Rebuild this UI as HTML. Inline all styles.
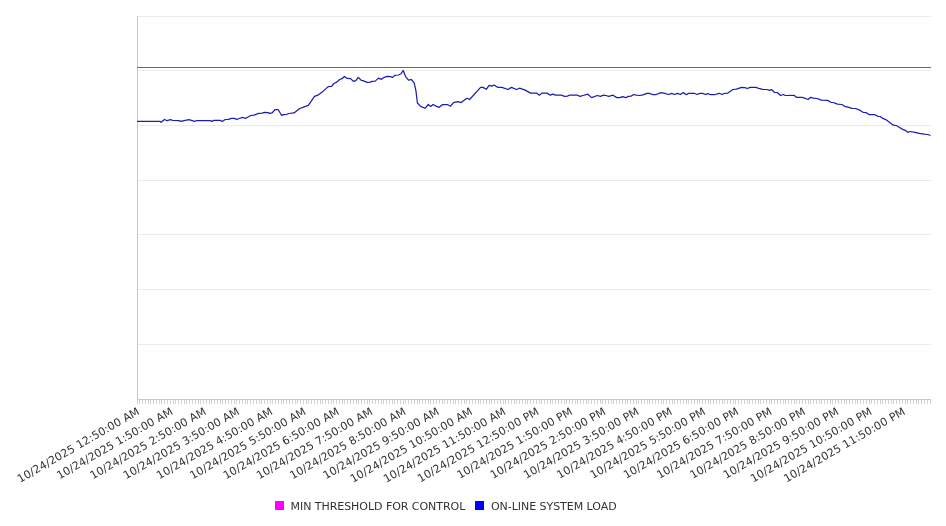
<!DOCTYPE html>
<html><head><meta charset="utf-8"><style>
html,body{margin:0;padding:0;background:#fff;}
svg{display:block;will-change:transform;}
text.xl{letter-spacing:0.1px;}
text{font-family:"DejaVu Sans","Liberation Sans",sans-serif;font-size:11px;letter-spacing:-0.045px;fill:#333;}
</style></head><body>
<svg width="946" height="526" viewBox="0 0 946 526">
<line x1="137" y1="16.5" x2="931" y2="16.5" stroke="#ebebeb" stroke-width="1"/>
<line x1="137" y1="70.5" x2="931" y2="70.5" stroke="#ebebeb" stroke-width="1"/>
<line x1="137" y1="125.5" x2="931" y2="125.5" stroke="#ebebeb" stroke-width="1"/>
<line x1="137" y1="180.5" x2="931" y2="180.5" stroke="#ebebeb" stroke-width="1"/>
<line x1="137" y1="234.5" x2="931" y2="234.5" stroke="#ebebeb" stroke-width="1"/>
<line x1="137" y1="289.5" x2="931" y2="289.5" stroke="#ebebeb" stroke-width="1"/>
<line x1="137" y1="344.5" x2="931" y2="344.5" stroke="#ebebeb" stroke-width="1"/>
<line x1="137.5" y1="16" x2="137.5" y2="400" stroke="#c8c8c8" stroke-width="1"/>
<line x1="137" y1="399.5" x2="931" y2="399.5" stroke="#c8c8c8" stroke-width="1"/>
<path d="M137.5 400v4M139.5 400v4M142.5 400v4M145.5 400v4M148.5 400v4M150.5 400v4M153.5 400v4M156.5 400v4M159.5 400v4M161.5 400v4M164.5 400v4M167.5 400v4M170.5 400v4M173.5 400v4M175.5 400v4M178.5 400v4M181.5 400v4M184.5 400v4M186.5 400v4M189.5 400v4M192.5 400v4M195.5 400v4M198.5 400v4M200.5 400v4M203.5 400v4M206.5 400v4M209.5 400v4M211.5 400v4M214.5 400v4M217.5 400v4M220.5 400v4M222.5 400v4M225.5 400v4M228.5 400v4M231.5 400v4M234.5 400v4M236.5 400v4M239.5 400v4M242.5 400v4M245.5 400v4M247.5 400v4M250.5 400v4M253.5 400v4M256.5 400v4M259.5 400v4M261.5 400v4M264.5 400v4M267.5 400v4M270.5 400v4M272.5 400v4M275.5 400v4M278.5 400v4M281.5 400v4M283.5 400v4M286.5 400v4M289.5 400v4M292.5 400v4M295.5 400v4M297.5 400v4M300.5 400v4M303.5 400v4M306.5 400v4M308.5 400v4M311.5 400v4M314.5 400v4M317.5 400v4M320.5 400v4M322.5 400v4M325.5 400v4M328.5 400v4M331.5 400v4M333.5 400v4M336.5 400v4M339.5 400v4M342.5 400v4M344.5 400v4M347.5 400v4M350.5 400v4M353.5 400v4M356.5 400v4M358.5 400v4M361.5 400v4M364.5 400v4M367.5 400v4M369.5 400v4M372.5 400v4M375.5 400v4M378.5 400v4M381.5 400v4M383.5 400v4M386.5 400v4M389.5 400v4M392.5 400v4M394.5 400v4M397.5 400v4M400.5 400v4M403.5 400v4M405.5 400v4M408.5 400v4M411.5 400v4M414.5 400v4M417.5 400v4M419.5 400v4M422.5 400v4M425.5 400v4M428.5 400v4M430.5 400v4M433.5 400v4M436.5 400v4M439.5 400v4M442.5 400v4M444.5 400v4M447.5 400v4M450.5 400v4M453.5 400v4M455.5 400v4M458.5 400v4M461.5 400v4M464.5 400v4M466.5 400v4M469.5 400v4M472.5 400v4M475.5 400v4M478.5 400v4M480.5 400v4M483.5 400v4M486.5 400v4M489.5 400v4M491.5 400v4M494.5 400v4M497.5 400v4M500.5 400v4M503.5 400v4M505.5 400v4M508.5 400v4M511.5 400v4M514.5 400v4M516.5 400v4M519.5 400v4M522.5 400v4M525.5 400v4M527.5 400v4M530.5 400v4M533.5 400v4M536.5 400v4M539.5 400v4M541.5 400v4M544.5 400v4M547.5 400v4M550.5 400v4M552.5 400v4M555.5 400v4M558.5 400v4M561.5 400v4M564.5 400v4M566.5 400v4M569.5 400v4M572.5 400v4M575.5 400v4M577.5 400v4M580.5 400v4M583.5 400v4M586.5 400v4M588.5 400v4M591.5 400v4M594.5 400v4M597.5 400v4M600.5 400v4M602.5 400v4M605.5 400v4M608.5 400v4M611.5 400v4M613.5 400v4M616.5 400v4M619.5 400v4M622.5 400v4M625.5 400v4M627.5 400v4M630.5 400v4M633.5 400v4M636.5 400v4M638.5 400v4M641.5 400v4M644.5 400v4M647.5 400v4M649.5 400v4M652.5 400v4M655.5 400v4M658.5 400v4M661.5 400v4M663.5 400v4M666.5 400v4M669.5 400v4M672.5 400v4M674.5 400v4M677.5 400v4M680.5 400v4M683.5 400v4M686.5 400v4M688.5 400v4M691.5 400v4M694.5 400v4M697.5 400v4M699.5 400v4M702.5 400v4M705.5 400v4M708.5 400v4M710.5 400v4M713.5 400v4M716.5 400v4M719.5 400v4M722.5 400v4M724.5 400v4M727.5 400v4M730.5 400v4M733.5 400v4M735.5 400v4M738.5 400v4M741.5 400v4M744.5 400v4M747.5 400v4M749.5 400v4M752.5 400v4M755.5 400v4M758.5 400v4M760.5 400v4M763.5 400v4M766.5 400v4M769.5 400v4M771.5 400v4M774.5 400v4M777.5 400v4M780.5 400v4M783.5 400v4M785.5 400v4M788.5 400v4M791.5 400v4M794.5 400v4M796.5 400v4M799.5 400v4M802.5 400v4M805.5 400v4M808.5 400v4M810.5 400v4M813.5 400v4M816.5 400v4M819.5 400v4M821.5 400v4M824.5 400v4M827.5 400v4M830.5 400v4M832.5 400v4M835.5 400v4M838.5 400v4M841.5 400v4M844.5 400v4M846.5 400v4M849.5 400v4M852.5 400v4M855.5 400v4M857.5 400v4M860.5 400v4M863.5 400v4M866.5 400v4M869.5 400v4M871.5 400v4M874.5 400v4M877.5 400v4M880.5 400v4M882.5 400v4M885.5 400v4M888.5 400v4M891.5 400v4M893.5 400v4M896.5 400v4M899.5 400v4M902.5 400v4M905.5 400v4M907.5 400v4M910.5 400v4M913.5 400v4M916.5 400v4M918.5 400v4M921.5 400v4M924.5 400v4M927.5 400v4M930.5 400v4" stroke="#d2d2d2" stroke-width="1"/>
<line x1="137" y1="67.5" x2="931" y2="67.5" stroke="#b035b0" stroke-width="1"/>
<polyline points="137.0,121.4 160.0,121.4 161.0,122.3 164.5,119.5 167.0,120.7 170.5,119.6 173.0,120.5 179.0,120.6 181.0,121.4 184.0,120.6 189.0,119.7 194.5,121.3 197.0,120.5 210.0,120.5 211.7,121.4 213.8,120.4 220.6,120.4 222.3,121.5 225.2,119.5 228.2,119.4 231.6,118.3 234.5,118.4 236.6,119.5 239.2,118.5 242.6,117.4 245.5,118.5 247.6,117.2 250.6,115.5 254.0,115.1 258.6,113.4 262.0,113.2 265.0,112.3 267.9,112.6 270.0,113.4 272.2,112.8 275.1,109.5 278.1,109.5 281.5,115.3 283.6,114.6 287.0,114.3 288.8,113.5 294.0,112.9 299.7,108.5 303.5,107.1 308.3,105.3 314.5,96.4 317.8,95.2 323.0,91.4 328.2,86.6 331.6,86.3 333.9,83.5 336.8,82.1 339.6,79.5 342.0,78.7 344.4,76.5 347.2,78.4 350.6,78.6 353.4,81.4 355.8,80.6 358.2,77.4 361.5,80.5 362.9,80.7 367.1,82.3 370.5,82.1 371.9,81.4 375.2,81.1 378.5,78.1 381.4,79.3 384.2,77.3 387.1,76.4 390.4,76.6 392.8,77.4 394.7,75.4 398.5,75.0 400.9,73.8 403.2,70.5 405.6,76.6 408.5,80.1 411.3,79.5 414.2,82.8 416.0,91.2 417.4,103.0 420.7,106.4 425.0,108.3 428.3,104.5 430.7,106.4 433.1,104.5 436.4,106.4 439.2,107.3 442.6,104.5 447.3,104.5 450.6,106.2 453.5,102.6 457.8,101.6 461.1,102.6 466.8,98.3 469.6,99.5 480.6,87.4 482.9,87.4 486.3,89.3 489.1,85.3 491.5,86.2 494.3,85.2 497.6,87.3 501.9,87.3 508.0,89.5 511.4,87.4 516.6,89.5 519.5,88.2 525.2,90.1 530.4,93.1 536.6,93.1 539.4,95.2 541.8,93.1 547.0,93.1 550.3,95.2 552.7,94.2 555.6,95.2 561.3,95.2 564.6,96.4 567.4,96.1 569.3,95.2 577.4,95.2 580.2,96.4 583.0,95.5 587.8,94.2 591.6,97.6 597.3,95.5 600.6,96.4 603.0,95.2 605.9,95.5 608.7,96.4 613.0,95.2 616.8,97.6 620.1,97.6 622.5,96.6 625.8,97.7 628.2,96.4 631.0,96.1 633.9,94.5 636.3,95.2 640.0,95.5 642.9,94.9 647.1,93.3 649.5,93.3 652.4,94.5 656.2,94.5 660.9,92.6 664.7,93.3 668.5,94.5 671.8,93.3 674.2,94.5 677.5,93.3 680.4,94.5 683.2,92.6 686.6,94.7 688.5,93.3 694.2,93.3 697.0,94.5 699.9,93.3 702.7,93.3 705.6,94.5 707.9,93.6 710.3,94.5 715.0,94.5 719.3,93.3 722.1,94.5 724.5,93.3 727.8,93.1 733.1,89.5 736.4,89.2 741.6,87.4 744.9,87.6 747.3,88.5 750.2,87.3 755.9,87.4 758.7,88.3 762.5,89.3 766.8,89.5 769.6,90.4 771.5,89.5 774.4,92.3 777.2,92.5 780.6,95.5 783.4,94.5 785.3,95.5 794.3,95.4 796.7,97.4 802.4,97.4 808.1,99.5 810.4,97.4 813.3,98.2 817.1,98.5 821.4,100.2 827.5,100.4 830.9,102.3 833.2,102.5 837.5,104.2 841.8,104.5 844.6,106.3 848.0,107.1 851.8,108.3 855.6,108.5 860.3,110.4 863.4,112.5 866.3,112.7 868.9,114.5 874.4,114.5 877.8,116.3 880.3,116.5 882.8,118.4 885.8,119.6 893.4,125.2 896.4,125.5 902.3,129.2 905.2,130.3 907.8,132.3 910.3,131.5 915.0,132.3 919.2,133.4 924.3,134.2 927.7,134.5 930.5,135.5" fill="none" stroke="#1c1cb0" stroke-width="1.25" stroke-linejoin="round"/>
<text transform="translate(138.92,411.00) rotate(-30)" text-anchor="end" dominant-baseline="middle" class="xl">10/24/2025 12:50:00 AM</text>
<text transform="translate(172.21,411.00) rotate(-30)" text-anchor="end" dominant-baseline="middle" class="xl">10/24/2025 1:50:00 AM</text>
<text transform="translate(205.50,411.00) rotate(-30)" text-anchor="end" dominant-baseline="middle" class="xl">10/24/2025 2:50:00 AM</text>
<text transform="translate(238.79,411.00) rotate(-30)" text-anchor="end" dominant-baseline="middle" class="xl">10/24/2025 3:50:00 AM</text>
<text transform="translate(272.08,411.00) rotate(-30)" text-anchor="end" dominant-baseline="middle" class="xl">10/24/2025 4:50:00 AM</text>
<text transform="translate(305.37,411.00) rotate(-30)" text-anchor="end" dominant-baseline="middle" class="xl">10/24/2025 5:50:00 AM</text>
<text transform="translate(338.66,411.00) rotate(-30)" text-anchor="end" dominant-baseline="middle" class="xl">10/24/2025 6:50:00 AM</text>
<text transform="translate(371.95,411.00) rotate(-30)" text-anchor="end" dominant-baseline="middle" class="xl">10/24/2025 7:50:00 AM</text>
<text transform="translate(405.24,411.00) rotate(-30)" text-anchor="end" dominant-baseline="middle" class="xl">10/24/2025 8:50:00 AM</text>
<text transform="translate(438.53,411.00) rotate(-30)" text-anchor="end" dominant-baseline="middle" class="xl">10/24/2025 9:50:00 AM</text>
<text transform="translate(471.82,411.00) rotate(-30)" text-anchor="end" dominant-baseline="middle" class="xl">10/24/2025 10:50:00 AM</text>
<text transform="translate(505.11,411.00) rotate(-30)" text-anchor="end" dominant-baseline="middle" class="xl">10/24/2025 11:50:00 AM</text>
<text transform="translate(538.40,411.00) rotate(-30)" text-anchor="end" dominant-baseline="middle" class="xl">10/24/2025 12:50:00 PM</text>
<text transform="translate(571.69,411.00) rotate(-30)" text-anchor="end" dominant-baseline="middle" class="xl">10/24/2025 1:50:00 PM</text>
<text transform="translate(604.98,411.00) rotate(-30)" text-anchor="end" dominant-baseline="middle" class="xl">10/24/2025 2:50:00 PM</text>
<text transform="translate(638.27,411.00) rotate(-30)" text-anchor="end" dominant-baseline="middle" class="xl">10/24/2025 3:50:00 PM</text>
<text transform="translate(671.56,411.00) rotate(-30)" text-anchor="end" dominant-baseline="middle" class="xl">10/24/2025 4:50:00 PM</text>
<text transform="translate(704.85,411.00) rotate(-30)" text-anchor="end" dominant-baseline="middle" class="xl">10/24/2025 5:50:00 PM</text>
<text transform="translate(738.14,411.00) rotate(-30)" text-anchor="end" dominant-baseline="middle" class="xl">10/24/2025 6:50:00 PM</text>
<text transform="translate(771.43,411.00) rotate(-30)" text-anchor="end" dominant-baseline="middle" class="xl">10/24/2025 7:50:00 PM</text>
<text transform="translate(804.72,411.00) rotate(-30)" text-anchor="end" dominant-baseline="middle" class="xl">10/24/2025 8:50:00 PM</text>
<text transform="translate(838.01,411.00) rotate(-30)" text-anchor="end" dominant-baseline="middle" class="xl">10/24/2025 9:50:00 PM</text>
<text transform="translate(871.30,411.00) rotate(-30)" text-anchor="end" dominant-baseline="middle" class="xl">10/24/2025 10:50:00 PM</text>
<text transform="translate(904.59,411.00) rotate(-30)" text-anchor="end" dominant-baseline="middle" class="xl">10/24/2025 11:50:00 PM</text>
<rect x="275" y="501" width="9" height="9" fill="#ff00ff"/>
<text x="290.5" y="509.5">MIN THRESHOLD FOR CONTROL</text>
<rect x="475" y="501" width="9" height="9" fill="#0000ff"/>
<text x="491" y="509.5">ON-LINE SYSTEM LOAD</text>
</svg>
</body></html>
